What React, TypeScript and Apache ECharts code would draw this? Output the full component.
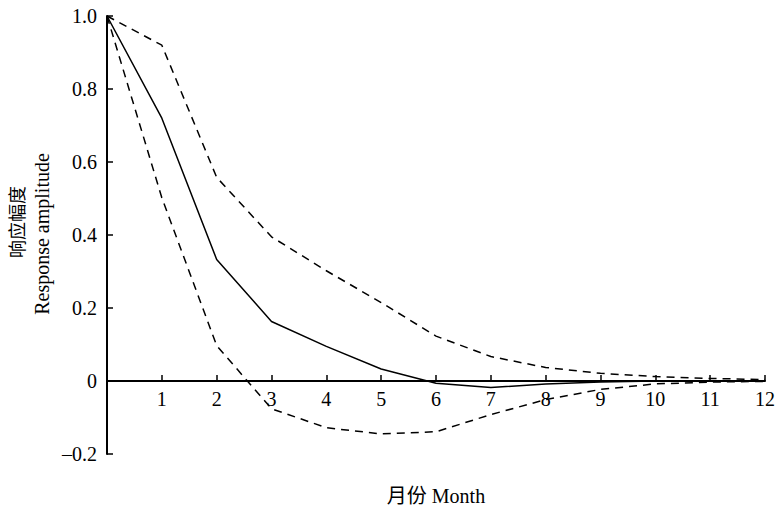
import React, { useEffect, useRef } from "react";
import * as echarts from "echarts";

const months = [0, 1, 2, 3, 4, 5, 6, 7, 8, 9, 10, 11, 12];
const response = [1.0, 0.72, 0.333, 0.163, 0.095, 0.033, -0.006, -0.018, -0.008, -0.003, 0.0, 0.0, 0.0];
const upperBound = [1.0, 0.92, 0.558, 0.395, 0.302, 0.215, 0.123, 0.067, 0.037, 0.021, 0.012, 0.007, 0.004];
const lowerBound = [1.0, 0.502, 0.097, -0.076, -0.128, -0.145, -0.139, -0.092, -0.051, -0.023, -0.008, -0.003, -0.001];

const yName = ["响应幅度", "Response amplitude"];
const xName = "月份 Month";

const FONT = '"Liberation Serif", "Noto Sans CJK SC", serif';

const GRID_TOP = 16;
const GRID_BOTTOM = 59;
const HEIGHT = 513;
const Y_MIN = -0.2;
const Y_MAX = 1.0;

export default function App() {
  const ref = useRef<HTMLDivElement>(null);
  useEffect(() => {
    if (!ref.current) return;
    const chart = echarts.init(ref.current, undefined, { renderer: "svg" });
    const pts = (arr: number[]) => months.map((m, i) => [m, arr[i]]);
    const lineSeries = (data: number[], type: "solid" | "dashed") => ({
      type: "line",
      data: pts(data),
      showSymbol: false,
      symbol: "none",
      lineStyle: {
        color: "#000",
        width: 1.5,
        type: type === "dashed" ? [8, 6] : "solid",
      },
      z: 3,
    });
    const plotH = HEIGHT - GRID_TOP - GRID_BOTTOM;
    const zeroOffset = (plotH * (0 - Y_MIN)) / (Y_MAX - Y_MIN);
    chart.setOption({
      animation: false,
      backgroundColor: "#fff",
      textStyle: { fontFamily: FONT },
      grid: { left: 107, right: 13, top: GRID_TOP, bottom: GRID_BOTTOM, containLabel: false, outerBoundsMode: "none" },
      xAxis: {
        type: "value",
        min: 0,
        max: 12,
        interval: 1,
        position: "bottom",
        offset: -zeroOffset,
        axisLine: { onZero: false, lineStyle: { color: "#000", width: 2 } },
        axisTick: { show: true, inside: true, length: 6, lineStyle: { color: "#000", width: 1.5 } },
        axisLabel: {
          fontFamily: FONT,
          fontSize: 20,
          color: "#000",
          margin: 8,
          formatter: (v: number) => (v === 0 ? "" : String(v)),
        },
        splitLine: { show: false },
      },
      yAxis: {
        type: "value",
        min: Y_MIN,
        max: Y_MAX,
        interval: 0.2,
        axisLine: { show: true, onZero: false, lineStyle: { color: "#000", width: 2 } },
        axisTick: { show: true, inside: true, length: 6, lineStyle: { color: "#000", width: 1.5 } },
        axisLabel: {
          fontFamily: FONT,
          fontSize: 20,
          color: "#000",
          margin: 10,
          formatter: (v: number) => {
            const r = Math.round(v * 10) / 10;
            if (r === 0) return "0";
            return r.toFixed(1).replace("-", "\u2013");
          },
        },
        splitLine: { show: false },
      },
      graphic: [
        {
          type: "text",
          x: 18,
          y: 222,
          rotation: Math.PI / 2,
          style: {
            text: yName[0],
            fontFamily: FONT,
            fontSize: 18,
            fill: "#000",
            align: "center",
            verticalAlign: "middle",
          },
        },
        {
          type: "text",
          x: 42,
          y: 234,
          rotation: Math.PI / 2,
          style: {
            text: yName[1],
            fontFamily: FONT,
            fontSize: 20,
            fill: "#000",
            align: "center",
            verticalAlign: "middle",
          },
        },
        {
          type: "text",
          x: 436,
          y: 496,
          style: {
            text: xName,
            fontFamily: FONT,
            fontSize: 20,
            fill: "#000",
            align: "center",
            verticalAlign: "middle",
          },
        },
      ],
      series: [
        lineSeries(upperBound, "dashed"),
        lineSeries(lowerBound, "dashed"),
        lineSeries(response, "solid"),
      ],
    });
    return () => chart.dispose();
  }, []);
  return <div ref={ref} style={{ width: 778, height: 513, position: "absolute", left: 0, top: 0 }} />;
}
